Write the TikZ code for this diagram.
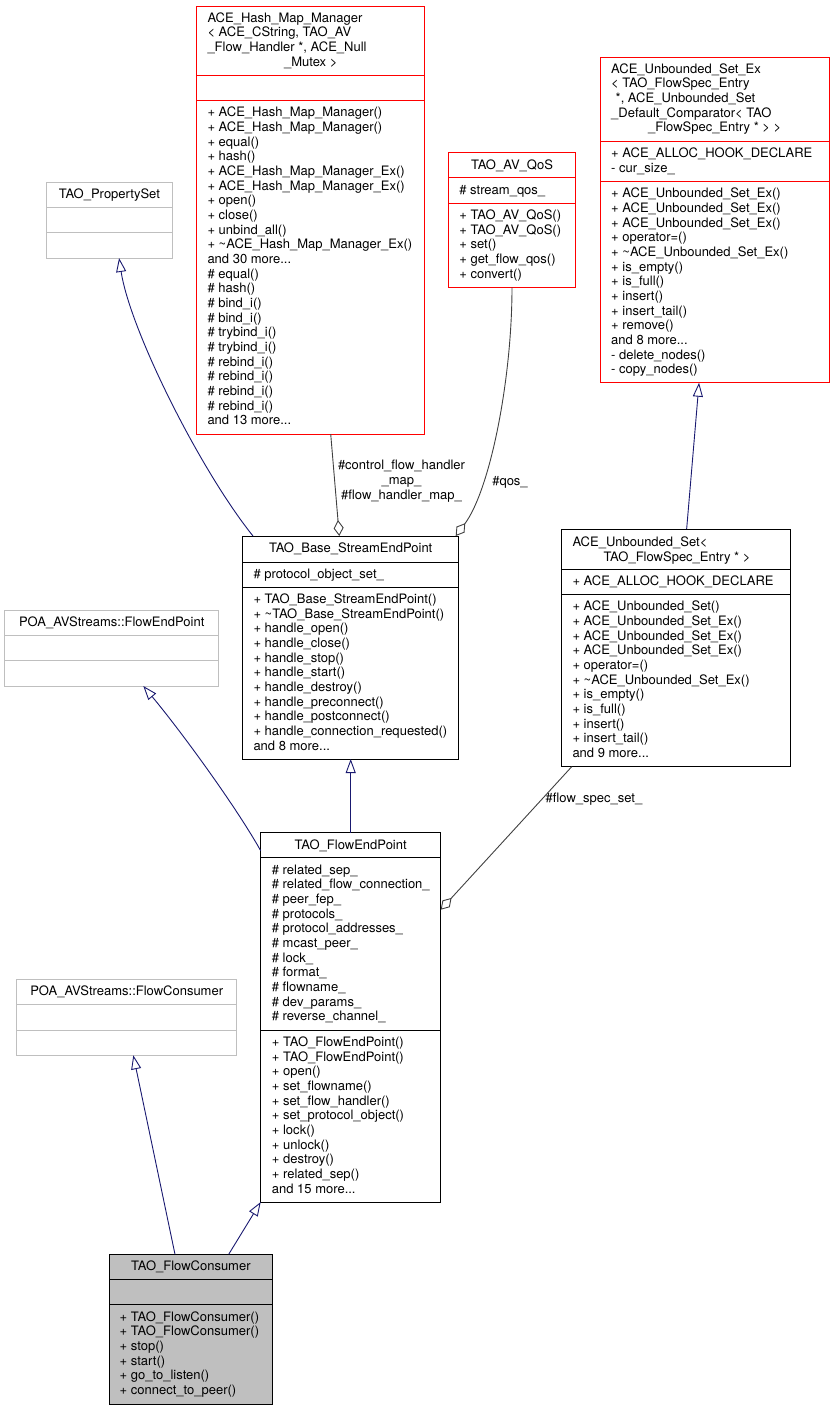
\documentclass[tikz,border=0pt]{standalone}
\usepackage{fontspec}
\setmainfont{TeX Gyre Heros}
\usetikzlibrary{arrows.meta,calc}
\definecolor{navy}{HTML}{191970}
\definecolor{dgray}{HTML}{404040}
\definecolor{lgray}{HTML}{BFBFBF}
\definecolor{boxred}{HTML}{FF0000}
\definecolor{consfill}{HTML}{BFBFBF}
\newcommand\tdots{...}
\tikzset{
  cls/.style={draw, inner sep=0pt, outer sep=0pt, anchor=north west, line width=1pt},
  txt/.style={inner sep=0pt, font=\fontsize{13}{14.67}\selectfont, text=black},
  inh/.style={draw=navy, line width=0.9pt, {Triangle[open,length=14pt,width=10pt]}-},
  comp/.style={draw=dgray, line width=0.9pt, {Diamond[open,length=16pt,width=10pt]}-},
}
% name, x1, y1, width, height, divider1 offset, divider2 offset, colour, fill
\newcommand\umlbox[9]{%
  \node[cls, draw=#8, fill=#9, minimum width=#4, minimum height=#5] (#1) at (#2,#3) {};
  \draw[#8, line width=1pt] ($(#1.north west)+(0,#6)$) -- ($(#1.north east)+(0,#6)$);
  \draw[#8, line width=1pt] ($(#1.north west)+(0,#7)$) -- ($(#1.north east)+(0,#7)$);
}
% name prefix, x, first baseline, list of lines
\newcommand\txtlines[4]{%
  \foreach \lineitem [count=\i from 0] in {#4} {%
    \node[txt, anchor=base west] (#1-\i) at (#2, #3+\i*14.67) {\lineitem};
  }%
}
\begin{document}
\begin{tikzpicture}[x=1pt,y=-1pt]
\useasboundingbox (0,0) rectangle (835,1411);

% ---- boxes ----
\umlbox{propset}{46.7}{182}{125.3}{76}{25.3}{50.7}{lgray}{white}
\umlbox{hash}{196.7}{6}{228}{428}{69.3}{94.3}{boxred}{white}
\umlbox{qos}{448.7}{152.7}{126.6}{134.6}{25}{50.3}{boxred}{white}
\umlbox{unbex}{600}{57.3}{229.3}{325.4}{84}{124}{boxred}{white}
\umlbox{base}{242.7}{536}{216}{223}{26}{51}{black}{white}
\umlbox{unbset}{561}{529}{229.7}{237.7}{40.3}{65.3}{black}{white}
\umlbox{poafep}{4.7}{610}{214}{76}{25.3}{50.7}{lgray}{white}
\umlbox{fep}{260.7}{832.7}{180}{369.3}{25}{197.3}{black}{white}
\umlbox{poafc}{16.7}{979.3}{220}{76}{25}{50.7}{lgray}{white}
\umlbox{cons}{109}{1254.3}{163.7}{149.7}{25}{50.4}{black}{consfill}

% ---- TAO_PropertySet ----
\node[txt, anchor=base] (propset-t) at (109.35,198.5) {TAO\_PropertySet};

% ---- ACE_Hash_Map_Manager ----
\txtlines{hash-t}{207.3}{22}{ACE\_Hash\_Map\_Manager, {< ACE\_CString, TAO\_AV}, {\_Flow\_Handler *, ACE\_Null}}
\node[txt, anchor=base] (hash-tl) at (310.7,66) {\_Mutex >};
\txtlines{hash-m}{207.3}{116.8}{
 + ACE\_Hash\_Map\_Manager(),
 + ACE\_Hash\_Map\_Manager(),
 + equal(),
 + hash(),
 + ACE\_Hash\_Map\_Manager\_Ex(),
 + ACE\_Hash\_Map\_Manager\_Ex(),
 + open(),
 + close(),
 + unbind\_all(),
 + \textasciitilde ACE\_Hash\_Map\_Manager\_Ex(),
 and 30 more\tdots,
 \# equal(),
 \# hash(),
 \# bind\_i(),
 \# bind\_i(),
 \# trybind\_i(),
 \# trybind\_i(),
 \# rebind\_i(),
 \# rebind\_i(),
 \# rebind\_i(),
 \# rebind\_i(),
 and 13 more\tdots}

% ---- TAO_AV_QoS ----
\node[txt, anchor=base] (qos-t) at (512,169.2) {TAO\_AV\_QoS};
\txtlines{qos-a}{459.2}{194.2}{\# stream\_qos\_}
\txtlines{qos-m}{459.2}{219.5}{+ TAO\_AV\_QoS(), + TAO\_AV\_QoS(), + set(), + get\_flow\_qos(), + convert()}

% ---- ACE_Unbounded_Set_Ex ----
\txtlines{unbex-t}{611}{73}{ACE\_Unbounded\_Set\_Ex, < TAO\_FlowSpec\_Entry, {\hspace*{4.5pt}*, ACE\_Unbounded\_Set}, \_Default\_Comparator< TAO}
\node[txt, anchor=base] (unbex-tl) at (714.65,131.7) {\_FlowSpec\_Entry * > >};
\txtlines{unbex-a}{611}{157.8}{+ ACE\_ALLOC\_HOOK\_DECLARE, - cur\_size\_}
\txtlines{unbex-m}{611}{197.8}{
 + ACE\_Unbounded\_Set\_Ex(),
 + ACE\_Unbounded\_Set\_Ex(),
 + ACE\_Unbounded\_Set\_Ex(),
 + operator=(),
 + \textasciitilde ACE\_Unbounded\_Set\_Ex(),
 + is\_empty(),
 + is\_full(),
 + insert(),
 + insert\_tail(),
 + remove(),
 and 8 more\tdots,
 - delete\_nodes(),
 - copy\_nodes()}

% ---- TAO_Base_StreamEndPoint ----
\node[txt, anchor=base] (base-t) at (350.7,552.5) {TAO\_Base\_StreamEndPoint};
\txtlines{base-a}{253.3}{578.5}{\# protocol\_object\_set\_}
\txtlines{base-m}{253.3}{603.5}{
 + TAO\_Base\_StreamEndPoint(),
 + \textasciitilde TAO\_Base\_StreamEndPoint(),
 + handle\_open(),
 + handle\_close(),
 + handle\_stop(),
 + handle\_start(),
 + handle\_destroy(),
 + handle\_preconnect(),
 + handle\_postconnect(),
 + handle\_connection\_requested(),
 and 8 more\tdots}

% ---- ACE_Unbounded_Set ----
\txtlines{unbset-t}{572.3}{546.3}{ACE\_Unbounded\_Set<}
\node[txt, anchor=base] (unbset-tl) at (677,561) {TAO\_FlowSpec\_Entry * >};
\txtlines{unbset-a}{572.3}{585.8}{+ ACE\_ALLOC\_HOOK\_DECLARE}
\txtlines{unbset-m}{572.3}{610.8}{
 + ACE\_Unbounded\_Set(),
 + ACE\_Unbounded\_Set\_Ex(),
 + ACE\_Unbounded\_Set\_Ex(),
 + ACE\_Unbounded\_Set\_Ex(),
 + operator=(),
 + \textasciitilde ACE\_Unbounded\_Set\_Ex(),
 + is\_empty(),
 + is\_full(),
 + insert(),
 + insert\_tail(),
 and 9 more\tdots}

% ---- POA_AVStreams::FlowEndPoint ----
\node[txt, anchor=base] (poafep-t) at (111.7,626.5) {POA\_AVStreams::FlowEndPoint};

% ---- TAO_FlowEndPoint ----
\node[txt, anchor=base] (fep-t) at (350.7,849.2) {TAO\_FlowEndPoint};
\txtlines{fep-a}{271.7}{874.2}{
 \# related\_sep\_,
 \# related\_flow\_connection\_,
 \# peer\_fep\_,
 \# protocols\_,
 \# protocol\_addresses\_,
 \# mcast\_peer\_,
 \# lock\_,
 \# format\_,
 \# flowname\_,
 \# dev\_params\_,
 \# reverse\_channel\_}
\txtlines{fep-m}{271.7}{1046.5}{
 + TAO\_FlowEndPoint(),
 + TAO\_FlowEndPoint(),
 + open(),
 + set\_flowname(),
 + set\_flow\_handler(),
 + set\_protocol\_object(),
 + lock(),
 + unlock(),
 + destroy(),
 + related\_sep(),
 and 15 more\tdots}

% ---- POA_AVStreams::FlowConsumer ----
\node[txt, anchor=base] (poafc-t) at (126.7,995.8) {POA\_AVStreams::FlowConsumer};

% ---- TAO_FlowConsumer ----
\node[txt, anchor=base] (cons-t) at (190.85,1270.8) {TAO\_FlowConsumer};
\txtlines{cons-m}{119.5}{1321.2}{
 + TAO\_FlowConsumer(),
 + TAO\_FlowConsumer(),
 + stop(),
 + start(),
 + go\_to\_listen(),
 + connect\_to\_peer()}

% ---- connectors ----
\draw[inh] ($(propset.south)+(9.7,0)$) .. controls (130,330) and (200,470) .. ($(base.north west)+(10.3,0)$);
\draw[comp] ($(base.north)+(-11.4,0)$) -- ($(hash.south)+(20,0)$);
\draw[comp] ($(base.north east)+(-3,0)$) .. controls (490,490) and (512,380) .. (qos.south);
\draw[inh] ($(unbex.south)+(-15.6,0)$) -- ($(unbset.north)+(10.8,0)$);
\draw[comp] ($(fep.north east)+(0,77)$) -- ($(unbset.south west)+(10.7,0)$);
\draw[inh] ($(poafep.south)+(31.6,0)$) .. controls (180,730) and (235,805) .. ($(fep.north west)+(0,18)$);
\draw[inh] (base.south) -- (fep.north);
\draw[inh] ($(poafc.south)+(6.6,0)$) -- ($(cons.north)+(-15.85,0)$);
\draw[inh] (fep.south west) -- ($(cons.north)+(37.85,0)$);

% ---- connector labels ----
\node[txt, align=center] (lbl-hash) at (401.5,481) {\#control\_flow\_handler\\\_map\_\\\#flow\_handler\_map\_};
\node[txt] (lbl-qos) at (510,482) {\#qos\_};
\node[txt] (lbl-fss) at (594,799) {\#flow\_spec\_set\_};
\end{tikzpicture}
\end{document}
